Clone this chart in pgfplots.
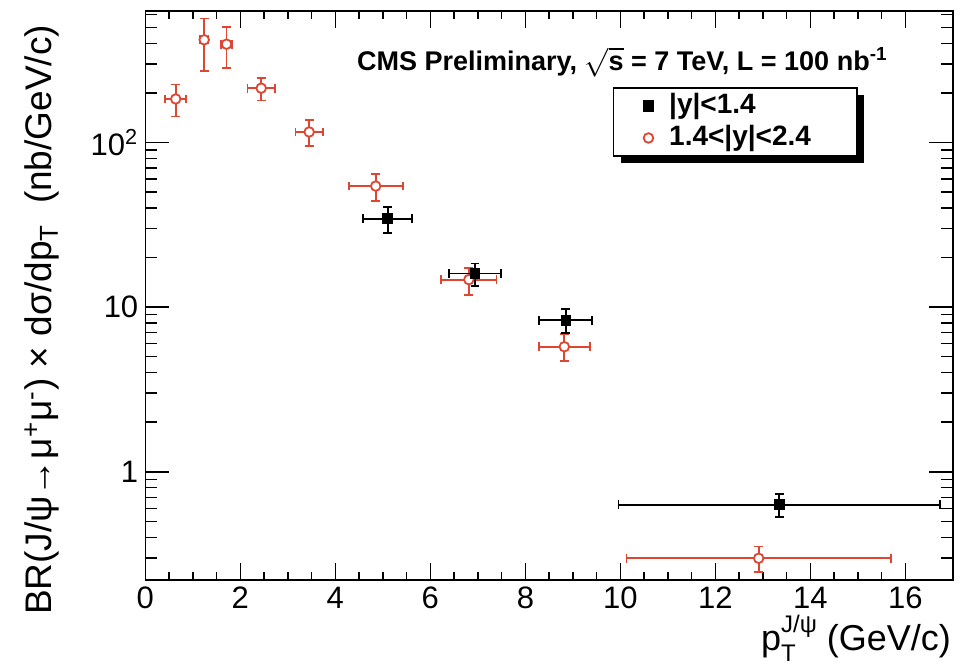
\documentclass[border=0pt]{standalone}
\usepackage{pgfplots}
\pgfplotsset{compat=1.18}
\usepackage{pgfplotstable}
\usepackage{fontspec}
\setmainfont{Liberation Sans}
\usetikzlibrary{shadows}
\definecolor{rootred}{RGB}{222,70,50}

\pgfplotstableread{
x y ex eyp eym
5.10 34.5 0.52 6.0 6.3
6.94 16.0 0.55 2.4 2.6
8.85 8.34 0.56 1.38 1.36
13.34 0.631 3.38 0.105 0.10
}\blackdata

\pgfplotstableread{
x y ex eyp eym
0.64 184 0.22 41 40
1.24 421 0.09 146 148
1.71 396 0.12 109 112
2.44 214 0.29 33 34
3.45 116 0.29 21 21
4.85 54.4 0.57 10.2 10.4
6.81 14.7 0.58 2.5 2.8
8.82 5.75 0.54 1.15 1.04
12.91 0.298 2.78 0.054 0.052
}\reddata

\begin{document}
\begin{tikzpicture}
\begin{axis}[
  at={(0,0)}, anchor=south west,
  scale only axis, width=403.85pt, height=284.5pt,
  xmin=0, xmax=17, ymode=log, ymin=0.22, ymax=630,
  xtick={0,2,...,16}, minor x tick num=3,
  ytick={1,10,100}, yticklabels={1,10,10\textsuperscript{2}},
  minor ytick={0.3,0.4,0.5,0.6,0.7,0.8,0.9,2,3,4,5,6,7,8,9,20,30,40,50,60,70,80,90,200,300,400,500,600},
  tick align=inside, xtick pos=both, ytick pos=both,
  xtick style={/pgfplots/major tick length=8.5pt,/pgfplots/minor tick length=4.25pt},
  ytick style={/pgfplots/major tick length=12pt,/pgfplots/minor tick length=6pt},
  tick label style={font=\fontsize{15.5}{18}\selectfont},
  /pgf/number format/assume math mode=true,
  axis line style={line width=0.75pt},
  every tick/.append style={black,line width=0.75pt},
  legend cell align=left,
  reverse legend,
  legend image code/.code={\path (-13pt,0pt) (8pt,0pt); \draw[#1] plot coordinates {(0pt,0pt)};},
  legend style={at={(rel axis cs:0.579,0.866)}, anchor=north west,
    draw=black, line width=0.75pt, fill=white,
    font=\fontsize{14}{16}\bfseries\selectfont,
    inner xsep=4pt, inner ysep=1.5pt, row sep=1pt,
    nodes={inner ysep=0.5pt, text height=11pt, text depth=3pt},
    drop shadow={shadow xshift=3.5pt, shadow yshift=-3.5pt, fill=black, opacity=1}},
]
\addplot[only marks, mark=*, color=rootred, mark size=2.4pt,
  mark options={fill=white, draw=rootred, line width=0.9pt},
  error bars/.cd, x dir=both, x explicit, y dir=both, y explicit,
  error bar style={line width=0.9pt, rootred},
  error mark options={rotate=90, mark size=2.2pt, line width=0.9pt, rootred}]
  table[x=x, y=y, x error=ex, y error plus=eyp, y error minus=eym] {\reddata};
\addlegendentry{\makebox[88pt][l]{1.4<|y|<2.4}}
\addplot[only marks, mark=square*, color=black, mark size=2.4pt,
  mark options={fill=black, draw=black},
  error bars/.cd, x dir=both, x explicit, y dir=both, y explicit,
  error bar style={line width=0.9pt, black},
  error mark options={rotate=90, mark size=2.2pt, line width=0.9pt, black}]
  table[x=x, y=y, x error=ex, y error plus=eyp, y error minus=eym] {\blackdata};
\addlegendentry{\makebox[88pt][l]{|y|<1.4}}
\end{axis}
\node[anchor=base west, font=\fontsize{13.5}{16}\bfseries\selectfont] at (102.35pt,254.5pt)
  {CMS Preliminary, $\sqrt{\mbox{s}}$ = 7 TeV, L = 100 nb\textsuperscript{-1}};
\node[rotate=90, anchor=base east, font=\fontsize{18.5}{20}\selectfont] at (-46.65pt,281pt)
  {BR(J/ψ→μ\textsuperscript{+}μ\textsuperscript{-}) × dσ/dp\textsubscript{T}\ \ (nb/GeV/c)};
\node[anchor=base east, font=\fontsize{18}{20}\selectfont] at (406.35pt,-35.5pt)
  {p\rlap{\raisebox{-5.5pt}{\fontsize{12}{12}\selectfont T}}\raisebox{9pt}{\fontsize{12}{12}\selectfont J/ψ} (GeV/c)};
\pgfresetboundingbox
\useasboundingbox (-72.65pt,-44.5pt) rectangle (409.85pt,290pt);
\end{tikzpicture}
\end{document}
